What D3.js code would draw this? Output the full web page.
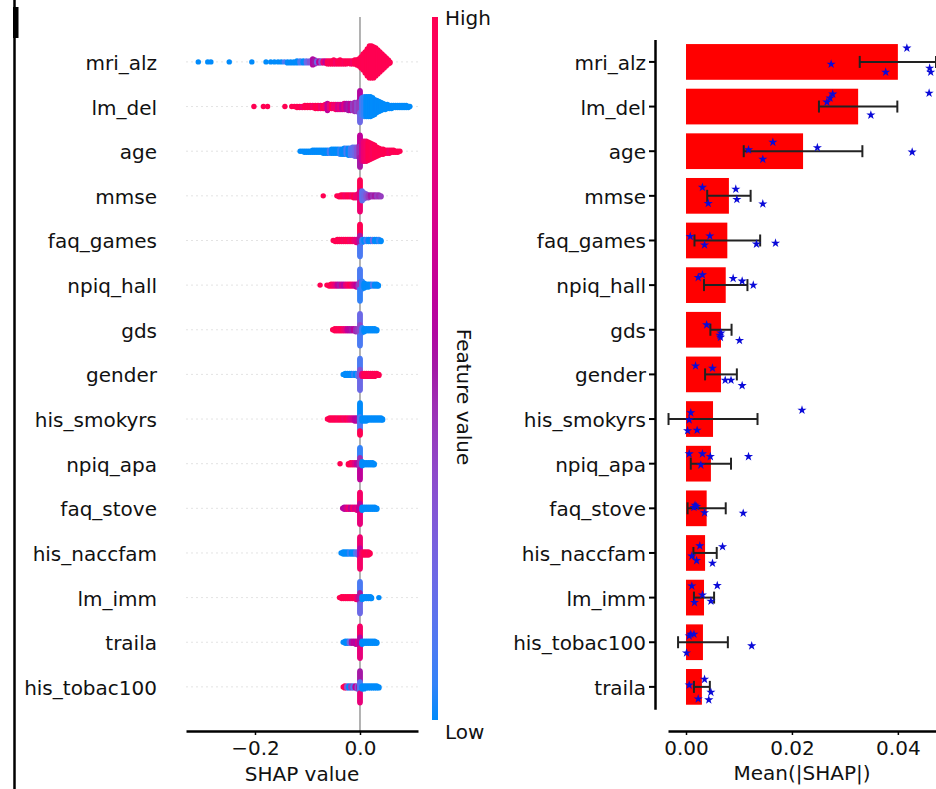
<!DOCTYPE html>
<html><head><meta charset="utf-8">
<script src="https://cdn.jsdelivr.net/npm/d3@7"></script>
<style>
body{margin:0;background:#fff}
svg{display:block}
text{font-family:"DejaVu Sans",sans-serif;fill:#111}
</style>
</head><body>
<svg id="chart" width="936" height="789"></svg>
<script>
// ---------------- DATA ----------------
const swarmFeatures = ["mri_alz","lm_del","age","mmse","faq_games","npiq_hall","gds","gender","his_smokyrs","npiq_apa","faq_stove","his_naccfam","lm_imm","traila","his_tobac100"];
const barFeatures = ["mri_alz","lm_del","age","mmse","faq_games","npiq_hall","gds","gender","his_smokyrs","npiq_apa","faq_stove","his_naccfam","lm_imm","his_tobac100","traila"];

// Mean(|SHAP|) per feature and its spread (right panel)
const barMeans  = [0.0400,0.0325,0.0221,0.0081,0.0078,0.0075,0.0066,0.0066,0.0051,0.0047,0.0039,0.0036,0.0034,0.0032,0.0030];
const barErrors = [0.0072,0.0074,0.0112,0.0041,0.0062,0.0041,0.0020,0.0030,0.0084,0.0038,0.0036,0.0022,0.0019,0.0047,0.0015];
// per-fold values (stars) and their vertical jitter (fraction of a row)
const foldValues = [
  [0.0417,0.0274,0.0377,0.0460,0.0462],
  [0.0459,0.0349,0.0277,0.0272,0.0266],
  [0.0164,0.0118,0.0145,0.0248,0.0427],
  [0.0031,0.0042,0.0094,0.0096,0.0145],
  [0.0008,0.0045,0.0035,0.0133,0.0169],
  [0.0023,0.0031,0.0089,0.0106,0.0127],
  [0.0039,0.0064,0.0066,0.0065,0.0101],
  [0.0018,0.0050,0.0074,0.0085,0.0106],
  [0.0009,0.0006,0.0003,0.0021,0.0219],
  [0.0006,0.0031,0.0046,0.0028,0.0118],
  [0.0017,0.0020,0.0035,0.0108,0.0015],
  [0.0026,0.0069,0.0011,0.0020,0.0050],
  [0.0011,0.0059,0.0031,0.0047,0.0016],
  [0.0009,0.0006,0.0001,0.0124,0.0015],
  [0.0035,0.0006,0.0047,0.0023,0.0043]
];
const foldJitter = [
  [-0.31,0.05,0.23,0.14,0.23],
  [-0.30,0.19,-0.28,-0.19,-0.10],
  [-0.20,-0.03,0.18,-0.08,0.02],
  [-0.19,0.17,-0.15,0.08,0.18],
  [-0.09,-0.10,0.10,0.08,0.06],
  [-0.17,-0.23,-0.15,-0.09,0.00],
  [-0.11,0.12,0.07,0.17,0.24],
  [-0.19,-0.14,0.13,0.13,0.25],
  [-0.14,0.02,0.26,0.25,-0.20],
  [-0.22,-0.22,-0.16,0.03,-0.16],
  [-0.07,-0.04,0.10,0.11,-0.02],
  [-0.16,-0.14,0.07,0.17,0.23],
  [-0.26,-0.27,-0.06,0.08,0.11],
  [-0.18,-0.14,0.24,0.08,-0.18],
  [-0.17,-0.04,0.12,0.27,0.29]
];

const shapTicks = [-0.2, 0.0];
const meanTicks = [0.00, 0.02, 0.04];

// Beeswarm bins: [SHAP value, number of samples, feature value (0 low .. 1 high)]
const bins_mri_alz = [
  [-0.308,1,0],[-0.290,1,0],[-0.284,1,0],[-0.249,1,0],[-0.206,1,0],
  [-0.179,1,0],[-0.170,1,0],[-0.163,1,0],[-0.156,1,0],[-0.150,1,0],[-0.144,1,0.1],[-0.138,2,0],[-0.132,2,0],
  [-0.126,2,0],[-0.120,3,0],[-0.114,3,0.1],[-0.108,3,0],[-0.102,3,0.2],[-0.096,3,0.3],[-0.090,7,0.55],
  [-0.086,5,0.5],[-0.082,3,0.2],[-0.078,3,0.6],[-0.074,3,0.3],[-0.070,3,0.85],[-0.066,3,0.6],[-0.062,4,1],
  [-0.058,4,0.95],[-0.054,4,1],[-0.050,5,1],[-0.046,4,0.9],[-0.042,4,1],[-0.038,5,1],[-0.034,4,1],
  [-0.030,4,0.95],[-0.026,4,1],[-0.022,3,1],[-0.018,4,1],[-0.014,4,0.9],[-0.010,5,1],[-0.006,6,1],[-0.002,8,1],
  [0.002,12,1],[0.006,17,1],[0.010,22,1],[0.014,28,1],[0.018,33,1],[0.022,33,1],[0.026,32,1],[0.030,29,1],
  [0.034,25,1],[0.038,21,1],[0.042,17,1],[0.046,13,1],[0.050,9,1],[0.054,5,1],[0.057,2,1]
];
const bins_lm_del = [
  [-0.202,1,1],[-0.184,1,1],[-0.176,1,1],[-0.143,1,1],[-0.130,1,1],[-0.125,1,1],[-0.120,2,1],[-0.115,2,1],
  [-0.110,2,0.9],[-0.105,3,1],[-0.100,3,1],[-0.095,3,1],[-0.090,3,0.9],[-0.085,4,1],[-0.080,4,1],[-0.075,4,0.85],
  [-0.070,4,1],[-0.066,5,0.9],[-0.062,8,0.6],[-0.058,5,0.8],[-0.054,5,1],[-0.050,5,0.85],[-0.046,6,0.9],
  [-0.042,6,0.7],[-0.038,6,0.8],[-0.034,6,0.6],[-0.030,7,0.75],[-0.026,7,0.55],[-0.022,8,0.5],[-0.018,8,0.6],
  [-0.014,8,0.4],[-0.010,10,0.45],[-0.006,10,0.35],[-0.002,12,0.4],
  [0,11,0.55],[0,11,0.4],[0,11,0.2],
  [0.004,19,0.1],[0.008,21,0.05],[0.012,21,0],[0.016,21,0],[0.020,21,0],[0.024,19,0],[0.028,16,0],[0.032,13,0],
  [0.036,11,0],[0.040,9,0],[0.044,7,0],[0.048,6,0],[0.052,5,0],[0.056,4,0],[0.060,4,0],[0.064,3,0],[0.068,3,0],
  [0.072,3,0],[0.076,3,0],[0.080,3,0],[0.084,3,0],[0.088,3,0],[0.092,2,0],[0.095,1,0]
];
const bins_age = [
  [-0.114,1,0],[-0.110,1,0],[-0.106,2,0],[-0.102,2,0],[-0.098,2,0],[-0.094,2,0],[-0.090,3,0],[-0.086,3,0],
  [-0.082,3,0],[-0.078,3,0],[-0.074,3,0],[-0.070,4,0],[-0.066,4,0],[-0.062,4,0],[-0.058,4,0.1],[-0.054,5,0],
  [-0.050,5,0],[-0.046,5,0],[-0.042,5,0],[-0.038,6,0.05],[-0.034,6,0],[-0.030,7,0],[-0.026,7,0.1],[-0.022,8,0],
  [-0.018,8,0.1],[-0.014,9,0.15],[-0.010,10,0.2],[-0.006,10,0.3],[-0.002,12,0.4],
  [0,11,0.6],[0,11,0.45],[0,11,0.5],
  [0.004,21,0.7],[0.008,21,0.85],[0.012,21,0.9],[0.016,19,1],[0.020,17,1],[0.024,15,0.95],[0.028,13,1],
  [0.032,10,1],[0.036,8,1],[0.040,6,1],[0.044,6,1],[0.048,4,1],[0.052,4,1],[0.056,4,0.9],[0.060,3,1],
  [0.064,3,1],[0.068,2,1],[0.072,2,1],[0.076,1,1]
];
const bins_mmse = [
  [-0.070,1,1],[-0.044,1,1],[-0.040,2,1],[-0.036,3,1],[-0.032,3,1],[-0.028,3,0.9],[-0.024,3,1],[-0.020,3,1],
  [-0.016,3,0.9],[-0.012,4,1],[-0.008,4,0.85],[-0.004,5,0.9],
  [0,11,1],[0,11,0.7],[0,11,0.85],
  [0.004,11,0.15],[0.008,7,0.2],[0.012,5,0.3],[0.016,4,0.4],[0.020,3,0.5],[0.024,3,0.45],[0.028,3,0.5],
  [0.032,3,0.4],[0.036,3,0.45],[0.040,2,0.4]
];
const bins_faq_games = [
  [-0.051,1,1],[-0.047,2,1],[-0.043,3,1],[-0.039,3,1],[-0.035,3,1],[-0.031,3,0.95],[-0.027,3,1],[-0.023,3,1],
  [-0.019,3,0.9],[-0.015,3,1],[-0.011,3,0.85],[-0.007,4,0.8],[-0.003,4,0.7],
  [0,11,1],[0,11,0.5],[0,11,0.1],
  [0.004,4,0.05],[0.008,3,0],[0.012,3,0.1],[0.016,3,0],[0.020,3,0],[0.024,3,0.2],[0.028,3,0],[0.032,3,0],
  [0.036,3,0.05],[0.040,2,0]
];
const bins_npiq_hall = [
  [-0.076,1,1],[-0.063,1,1],[-0.059,2,1],[-0.055,3,1],[-0.051,3,0.9],[-0.047,3,0.8],[-0.043,3,0.6],[-0.039,3,0.5],
  [-0.035,3,0.65],[-0.031,3,0.55],[-0.027,3,0.8],[-0.023,3,0.9],[-0.019,3,1],[-0.015,3,0.85],[-0.011,3,0.7],
  [-0.007,4,0.6],[-0.003,4,0.4],
  [0,13,0.1],[0,7,0.4],[0,13,0.05],
  [0.004,9,0.05],[0.008,6,0],[0.012,4,0],[0.016,4,0],[0.020,3,0],[0.024,3,0.1],[0.028,3,0],[0.032,3,0],[0.035,2,0]
];
const bins_gds = [
  [-0.052,1,1],[-0.048,3,1],[-0.044,3,1],[-0.040,3,0.95],[-0.036,3,1],[-0.032,3,0.9],[-0.028,3,0.8],[-0.024,3,0.6],
  [-0.020,3,0.55],[-0.016,3,0.5],[-0.012,3,0.6],[-0.008,4,0.45],[-0.004,4,0.4],
  [0,11,0.2],[0,11,0.35],[0,11,0.1],
  [0.004,6,0.05],[0.008,4,0],[0.012,3,0],[0.016,3,0],[0.020,3,0],[0.024,3,0],[0.028,3,0],[0.032,2,0]
];
const bins_gender = [
  [-0.032,1,0],[-0.028,3,0],[-0.024,3,0],[-0.020,3,0],[-0.016,3,0],[-0.012,3,0.05],[-0.008,3,0],[-0.004,4,0.1],
  [0,11,0.1],[0,11,0.3],[0,11,0.2],
  [0.004,4,0.8],[0.008,4,1],[0.012,4,1],[0.016,4,1],[0.020,4,0.95],[0.024,4,1],[0.028,4,1],[0.032,3,1],[0.036,2,1]
];
const bins_his_smokyrs = [
  [-0.062,1,1],[-0.058,3,1],[-0.054,3,1],[-0.050,3,1],[-0.046,3,1],[-0.042,3,0.95],[-0.038,3,1],[-0.034,3,1],
  [-0.030,3,0.9],[-0.026,3,1],[-0.022,3,0.9],[-0.018,3,0.8],[-0.014,3,0.7],[-0.010,4,0.6],[-0.006,4,0.55],[-0.002,4,0.5],
  [0,14,0],[0,14,0.1],[0,5,1],
  [0.004,4,0],[0.008,4,0],[0.012,4,0],[0.016,3,0],[0.020,3,0],[0.024,3,0],[0.028,3,0],[0.032,3,0],[0.036,3,0],
  [0.040,3,0],[0.043,2,0]
];
const bins_npiq_apa = [
  [-0.038,1,1],[-0.022,2,1],[-0.018,3,1],[-0.014,3,0.9],[-0.010,3,0.75],[-0.006,3,0.6],[-0.002,4,0.5],
  [0,10,0.05],[0,12,0.45],[0,11,0.6],
  [0.004,5,0],[0.008,3,0],[0.012,3,0],[0.016,3,0],[0.020,3,0],[0.024,3,0],[0.027,2,0]
];
const bins_faq_stove = [
  [-0.033,1,0.6],[-0.030,3,0.55],[-0.026,3,0.7],[-0.022,3,0.85],[-0.018,3,0.6],[-0.014,3,0.9],[-0.010,3,0.7],
  [-0.006,4,0.8],[-0.002,4,0.6],
  [0,11,0.9],[0,11,0.6],[0,11,0.8],
  [0.004,4,0],[0.008,3,0],[0.012,3,0],[0.016,3,0],[0.020,3,0],[0.024,3,0],[0.028,3,0],[0.032,2,0]
];
const bins_his_naccfam = [
  [-0.036,1,0],[-0.032,3,0],[-0.028,3,0],[-0.024,3,0],[-0.020,3,0.05],[-0.016,3,0],[-0.012,3,0],[-0.008,3,0.1],
  [-0.004,4,0.2],
  [0,11,0.85],[0,11,0.6],[0,11,0.9],
  [0.004,4,0.9],[0.008,4,1],[0.012,4,1],[0.016,4,0.95],[0.019,2,1]
];
const bins_lm_imm = [
  [-0.039,1,1],[-0.035,3,1],[-0.031,3,1],[-0.027,3,1],[-0.023,3,1],[-0.019,3,1],[-0.015,3,0.95],[-0.011,3,1],
  [-0.007,4,0.9],[-0.003,4,0.7],
  [0,11,0.1],[0,11,0.5],[0,11,0.2],
  [0.004,4,0],[0.008,3,0],[0.012,3,0],[0.016,3,0],[0.020,3,0],[0.022,2,0],[0.036,1,0]
];
const bins_traila = [
  [-0.032,1,0],[-0.028,3,0],[-0.024,3,0],[-0.020,3,0.2],[-0.016,3,0.5],[-0.012,3,0.6],[-0.008,4,0.55],[-0.004,4,0.7],
  [0,11,0.9],[0,11,0.55],[0,11,0.8],
  [0.004,4,0],[0.008,3,0],[0.012,3,0],[0.016,3,0],[0.020,3,0],[0.024,3,0],[0.028,3,0],[0.032,2,0]
];
const bins_his_tobac100 = [
  [-0.032,1,1],[-0.029,3,1],[-0.025,3,0.3],[-0.021,3,0],[-0.017,3,0.4],[-0.013,3,0.1],[-0.009,3,0.6],[-0.005,4,0.3],
  [-0.002,4,0.5],
  [0,11,0.5],[0,11,0.1],[0,11,0.8],
  [0.004,4,0],[0.008,4,0],[0.012,3,0],[0.016,3,0],[0.020,3,0],[0.024,3,0],[0.028,3,0],[0.032,3,0],[0.036,2,0]
];
const swarmBins = [bins_mri_alz,bins_lm_del,bins_age,bins_mmse,bins_faq_games,bins_npiq_hall,bins_gds,bins_gender,
  bins_his_smokyrs,bins_npiq_apa,bins_faq_stove,bins_his_naccfam,bins_lm_imm,bins_traila,bins_his_tobac100];

// ---------------- DRAW ----------------
const svg = d3.select("#chart");
const FS = 20;

// SHAP red-blue colour map (Lch, lightness dips in the middle)
const cBlue = d3.hcl("#008bfb"), cRed = d3.hcl("#ff0052");
function shapColor(t){
  const hB = cBlue.h, hR = cRed.h + 360;
  const h = hB + (hR - hB) * t;
  const c = cBlue.c + (cRed.c - cBlue.c) * t;
  const l = t < 0.5 ? cBlue.l + (40 - cBlue.l) * (t / 0.5) : 40 + (cRed.l - 40) * ((t - 0.5) / 0.5);
  return d3.hcl(h % 360, c, l).formatHex();
}

// frame line at far left
svg.append("line").attr("x1",14.5).attr("x2",14.5).attr("y1",0).attr("y2",789)
  .attr("stroke","#000").attr("stroke-width",2.5);
svg.append("rect").attr("x",13).attr("y",7).attr("width",5.5).attr("height",31).attr("fill","#000");

// ---------- left: beeswarm ----------
const xL = d3.scaleLinear().domain([-0.3314, 0.1105]).range([186, 418]);
const yL = d3.scaleBand().domain(swarmFeatures).range([39.6, 709.2]);
const rowStep = yL.bandwidth();
const axisY = 731;

const gL = svg.append("g");
// dashed row guides
gL.selectAll("line.guide").data(swarmFeatures).join("line")
  .attr("x1", xL.range()[0]).attr("x2", xL.range()[1])
  .attr("y1", d => yL(d) + rowStep/2).attr("y2", d => yL(d) + rowStep/2)
  .attr("stroke", "#e3e3e3").attr("stroke-width", 1).attr("stroke-dasharray", "2,3");
// zero line
gL.append("line").attr("x1", xL(0)).attr("x2", xL(0)).attr("y1", 17).attr("y2", axisY)
  .attr("stroke", "#999").attr("stroke-width", 1.5);

function layoutSwarm(bins){
  const groups = d3.group(bins, b => b[0]);
  const pts = [];
  let maxLayer = 0;
  for (const [s, arr] of groups){
    const n = d3.sum(arr, b => b[1]);
    const offs = d3.range(n).map(k => Math.ceil(k/2) * (k % 2 ? 1 : -1)).sort(d3.ascending);
    maxLayer = Math.max(maxLayer, d3.max(offs, Math.abs));
    let k = 0;
    arr.forEach(b => { for (let j = 0; j < b[1]; j++) pts.push({s: s, c: b[2], o: offs[k++]}); });
  }
  return {pts, maxLayer};
}

swarmFeatures.forEach((f, i) => {
  const {pts, maxLayer} = layoutSwarm(swarmBins[i]);
  const d = 0.38 * rowStep / (maxLayer + 1);
  const cy = yL(f) + rowStep/2;
  gL.append("g").selectAll("circle").data(pts).join("circle")
    .attr("cx", p => xL(p.s)).attr("cy", p => cy + p.o * d)
    .attr("r", 2.7).attr("fill", p => shapColor(p.c));
});

// feature labels
gL.selectAll("text.flab").data(swarmFeatures).join("text")
  .attr("x", 157).attr("y", d => yL(d) + rowStep/2).attr("dy", "0.4em")
  .attr("text-anchor", "end").attr("font-size", FS).text(d => d);

// x axis
const axL = d3.axisBottom(xL).tickValues(shapTicks).tickFormat(d3.format(".1f")).tickSize(4).tickSizeOuter(0).tickPadding(6);
const gAxL = svg.append("g").attr("transform", `translate(0,${axisY})`).call(axL);
gAxL.select(".domain").attr("stroke-width", 2.5);
gAxL.selectAll(".tick line").attr("stroke-width", 1.5);
gAxL.selectAll("text").attr("font-size", FS).attr("font-family", "DejaVu Sans").attr("fill", "#111");
svg.append("text").attr("x", 302).attr("y", 781).attr("text-anchor", "middle").attr("font-size", FS).text("SHAP value");

// colour bar
const defs = svg.append("defs");
const grad = defs.append("linearGradient").attr("id", "cbar").attr("x1", 0).attr("x2", 0).attr("y1", 1).attr("y2", 0);
d3.range(0, 1.0001, 0.05).forEach(t => grad.append("stop").attr("offset", t).attr("stop-color", shapColor(t)));
svg.append("rect").attr("x", 432).attr("y", 17).attr("width", 6).attr("height", 703).attr("fill", "url(#cbar)");
svg.append("text").attr("x", 445).attr("y", 25).attr("font-size", FS).text("High");
svg.append("text").attr("x", 445).attr("y", 739).attr("font-size", FS).text("Low");
svg.append("text").attr("transform", "translate(457,397) rotate(90)").attr("text-anchor", "middle")
  .attr("font-size", FS).text("Feature value");

// ---------- right: mean |SHAP| bars ----------
const xR = d3.scaleLinear().domain([-0.0034, 0.0472]).range([668, 936]);
const yR = d3.scaleBand().domain(barFeatures).range([39.6, 709.2]).paddingInner(0.2).paddingOuter(0.1);
const stepR = yR.step();
const gR = svg.append("g");

gR.selectAll("rect.bar").data(barFeatures).join("rect")
  .attr("x", xR(0)).attr("y", d => yR(d))
  .attr("width", (d, i) => xR(barMeans[i]) - xR(0)).attr("height", yR.bandwidth())
  .attr("fill", "#ff0000");

// error bars
const eb = gR.selectAll("g.err").data(barFeatures).join("g")
  .attr("transform", d => `translate(0,${yR(d) + yR.bandwidth()/2})`);
eb.append("line").attr("x1", (d,i) => xR(barMeans[i] - barErrors[i])).attr("x2", (d,i) => xR(barMeans[i] + barErrors[i]))
  .attr("y1", 0).attr("y2", 0).attr("stroke", "#222").attr("stroke-width", 2);
eb.append("line").attr("x1", (d,i) => xR(barMeans[i] - barErrors[i])).attr("x2", (d,i) => xR(barMeans[i] - barErrors[i]))
  .attr("y1", -6).attr("y2", 6).attr("stroke", "#222").attr("stroke-width", 2);
eb.append("line").attr("x1", (d,i) => xR(barMeans[i] + barErrors[i])).attr("x2", (d,i) => xR(barMeans[i] + barErrors[i]))
  .attr("y1", -6).attr("y2", 6).attr("stroke", "#222").attr("stroke-width", 2);

// fold stars
const star = d3.symbol().type(d3.symbolStar).size(26);
const starData = [];
barFeatures.forEach((f, i) => foldValues[i].forEach((v, j) => starData.push({f, v, j: foldJitter[i][j]})));
gR.selectAll("path.star").data(starData).join("path")
  .attr("d", star)
  .attr("transform", d => `translate(${xR(d.v)},${yR(d.f) + yR.bandwidth()/2 + d.j * stepR})`)
  .attr("fill", "#0a0ad8");

// y axis
const ayR = d3.axisLeft(yR).tickSize(6).tickSizeOuter(0).tickPadding(3);
const gAyR = svg.append("g").attr("transform", `translate(655,0)`).call(ayR);
gAyR.select(".domain").attr("stroke-width", 2.5);
gAyR.selectAll(".tick line").attr("stroke-width", 2);
gAyR.selectAll("text").attr("font-size", FS).attr("font-family", "DejaVu Sans").attr("fill", "#111").attr("dy", "0.4em");

// x axis
const axR = d3.axisBottom(xR).tickValues(meanTicks).tickFormat(d3.format(".2f")).tickSize(4).tickSizeOuter(0).tickPadding(6);
const gAxR = svg.append("g").attr("transform", `translate(0,${axisY})`).call(axR);
gAxR.select(".domain").attr("stroke-width", 2.5);
gAxR.selectAll(".tick line").attr("stroke-width", 1.5);
gAxR.selectAll("text").attr("font-size", FS).attr("font-family", "DejaVu Sans").attr("fill", "#111");
svg.append("text").attr("x", 802).attr("y", 780).attr("text-anchor", "middle").attr("font-size", FS).text("Mean(|SHAP|)");
</script>
</body></html>
